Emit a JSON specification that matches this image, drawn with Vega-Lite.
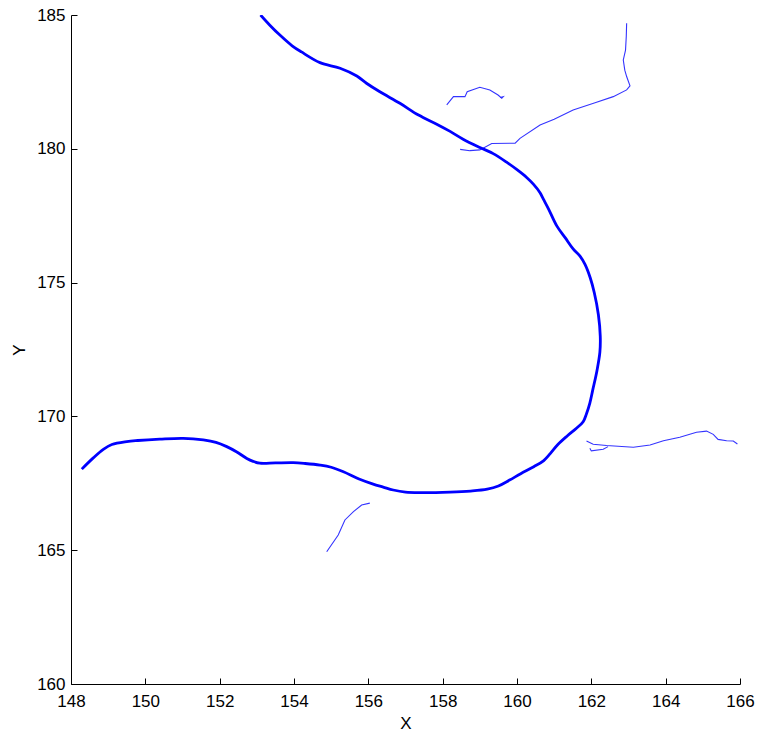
{
  "$schema": "https://vega.github.io/schema/vega-lite/v6.json",
  "width": 669,
  "height": 669,
  "autosize": "none",
  "padding": {"left": 71, "top": 15, "right": 17, "bottom": 47},
  "background": "white",
  "config": {
    "view": {"stroke": null},
    "axis": {
      "grid": false,
      "domainColor": "#000000",
      "domainWidth": 1,
      "tickColor": "#000000",
      "tickSize": -6,
      "labelFont": "Liberation Sans",
      "labelFontSize": 17,
      "labelColor": "#000000",
      "titleFont": "Liberation Sans",
      "titleFontSize": 17,
      "titleFontWeight": "normal",
      "titleColor": "#000000"
    }
  },
  "datasets": {
    "main": [
      {"o":1,"x":153.10,"y":185.00},{"o":2,"x":153.35,"y":184.62},{"o":3,"x":153.62,"y":184.25},{"o":4,"x":153.95,"y":183.85},{"o":5,"x":154.20,"y":183.62},{"o":6,"x":154.70,"y":183.22},{"o":7,"x":155.24,"y":183.01},{"o":8,"x":155.69,"y":182.72},{"o":9,"x":155.95,"y":182.45},{"o":10,"x":156.31,"y":182.13},{"o":11,"x":156.85,"y":181.70},{"o":12,"x":157.35,"y":181.26},{"o":15,"x":157.84,"y":180.92},{"o":16,"x":158.20,"y":180.65},{"o":17,"x":158.55,"y":180.36},{"o":18,"x":159.00,"y":180.05},{"o":19,"x":159.36,"y":179.82},{"o":20,"x":159.72,"y":179.50},{"o":21,"x":160.00,"y":179.22},{"o":22,"x":160.26,"y":178.93},{"o":23,"x":160.44,"y":178.68},{"o":24,"x":160.62,"y":178.36},{"o":25,"x":160.71,"y":178.12},{"o":26,"x":160.85,"y":177.75},{"o":27,"x":161.07,"y":177.12},{"o":28,"x":161.30,"y":176.67},{"o":29,"x":161.51,"y":176.26},{"o":30,"x":161.70,"y":175.98},{"o":31,"x":161.83,"y":175.68},{"o":32,"x":161.97,"y":175.18},{"o":33,"x":162.08,"y":174.62},{"o":34,"x":162.19,"y":173.80},{"o":35,"x":162.24,"y":173.00},{"o":36,"x":162.23,"y":172.40},{"o":37,"x":162.15,"y":171.70},{"o":38,"x":162.04,"y":171.00},{"o":39,"x":161.96,"y":170.50},{"o":40,"x":161.87,"y":170.10},{"o":41,"x":161.78,"y":169.80},{"o":42,"x":161.60,"y":169.56},{"o":43,"x":161.35,"y":169.27},{"o":44,"x":161.10,"y":168.95},{"o":45,"x":160.90,"y":168.62},{"o":46,"x":160.72,"y":168.35},{"o":47,"x":160.45,"y":168.12},{"o":48,"x":160.10,"y":167.86},{"o":49,"x":159.80,"y":167.62},{"o":50,"x":159.50,"y":167.40},{"o":51,"x":159.20,"y":167.28},{"o":52,"x":158.75,"y":167.21},{"o":53,"x":158.20,"y":167.17},{"o":54,"x":157.40,"y":167.15},{"o":55,"x":157.00,"y":167.17},{"o":56,"x":156.67,"y":167.25},{"o":57,"x":156.40,"y":167.36},{"o":58,"x":156.13,"y":167.47},{"o":59,"x":155.75,"y":167.66},{"o":60,"x":155.33,"y":167.93},{"o":61,"x":155.00,"y":168.10},{"o":62,"x":154.70,"y":168.18},{"o":63,"x":154.30,"y":168.24},{"o":64,"x":153.98,"y":168.27},{"o":65,"x":153.50,"y":168.26},{"o":66,"x":153.08,"y":168.25},{"o":67,"x":152.90,"y":168.32},{"o":68,"x":152.73,"y":168.43},{"o":69,"x":152.45,"y":168.68},{"o":70,"x":152.19,"y":168.87},{"o":71,"x":151.90,"y":169.03},{"o":72,"x":151.56,"y":169.12},{"o":73,"x":151.02,"y":169.18},{"o":74,"x":150.39,"y":169.15},{"o":75,"x":149.80,"y":169.10},{"o":76,"x":149.50,"y":169.06},{"o":77,"x":149.10,"y":168.95},{"o":78,"x":148.87,"y":168.77},{"o":79,"x":148.60,"y":168.45},{"o":80,"x":148.29,"y":168.03}
    ],
    "thin": [
      {"s":"A","o":1,"x":158.47,"y":179.98},{"s":"A","o":2,"x":158.73,"y":179.93},{"s":"A","o":3,"x":159.00,"y":179.96},{"s":"A","o":4,"x":159.32,"y":180.20},{"s":"A","o":5,"x":159.95,"y":180.21},{"s":"A","o":6,"x":160.08,"y":180.39},{"s":"A","o":7,"x":160.62,"y":180.89},{"s":"A","o":8,"x":161.00,"y":181.10},{"s":"A","o":9,"x":161.51,"y":181.45},{"s":"A","o":10,"x":162.10,"y":181.72},{"s":"A","o":11,"x":162.59,"y":181.95},{"s":"A","o":12,"x":162.95,"y":182.20},{"s":"A","o":13,"x":163.04,"y":182.35},{"s":"A","o":14,"x":162.95,"y":182.70},{"s":"A","o":15,"x":162.90,"y":182.94},{"s":"A","o":16,"x":162.86,"y":183.32},{"s":"A","o":17,"x":162.92,"y":183.69},{"s":"A","o":18,"x":162.94,"y":184.20},{"s":"A","o":19,"x":162.95,"y":184.69},
      {"s":"B","o":1,"x":158.11,"y":181.64},{"s":"B","o":2,"x":158.29,"y":181.95},{"s":"B","o":3,"x":158.60,"y":181.95},{"s":"B","o":4,"x":158.66,"y":182.13},{"s":"B","o":5,"x":159.00,"y":182.30},{"s":"B","o":6,"x":159.27,"y":182.20},{"s":"B","o":7,"x":159.49,"y":182.01},{"s":"B","o":8,"x":159.59,"y":181.89},{"s":"B","o":9,"x":159.63,"y":181.95},{"s":"B","o":10,"x":159.54,"y":181.92},
      {"s":"C","o":1,"x":154.88,"y":164.94},{"s":"C","o":2,"x":155.19,"y":165.57},{"s":"C","o":3,"x":155.37,"y":166.13},{"s":"C","o":4,"x":155.60,"y":166.44},{"s":"C","o":5,"x":155.82,"y":166.69},{"s":"C","o":6,"x":156.04,"y":166.76},
      {"s":"D","o":1,"x":161.87,"y":169.08},{"s":"D","o":2,"x":162.05,"y":168.96},{"s":"D","o":3,"x":162.41,"y":168.91},{"s":"D","o":4,"x":163.13,"y":168.85},{"s":"D","o":5,"x":163.58,"y":168.93},{"s":"D","o":6,"x":163.94,"y":169.09},{"s":"D","o":7,"x":164.38,"y":169.22},{"s":"D","o":8,"x":164.83,"y":169.41},{"s":"D","o":9,"x":165.10,"y":169.45},{"s":"D","o":10,"x":165.28,"y":169.33},{"s":"D","o":11,"x":165.41,"y":169.14},{"s":"D","o":12,"x":165.64,"y":169.09},{"s":"D","o":13,"x":165.82,"y":169.08},{"s":"D","o":14,"x":165.93,"y":168.97},
      {"s":"E","o":1,"x":161.96,"y":168.81},{"s":"E","o":2,"x":162.00,"y":168.71},{"s":"E","o":3,"x":162.32,"y":168.77},{"s":"E","o":4,"x":162.45,"y":168.87}
    ]
  },
  "encoding": {
    "x": {
      "field": "x", "type": "quantitative",
      "scale": {"domain": [148, 166], "nice": false, "zero": false},
      "axis": {"title": "X", "values": [148,150,152,154,156,158,160,162,164,166], "labelPadding": 15, "titlePadding": 6, "labelFlush": false}
    },
    "y": {
      "field": "y", "type": "quantitative",
      "scale": {"domain": [160, 185], "nice": false, "zero": false},
      "axis": {"title": "Y", "values": [160,165,170,175,180,185], "labelPadding": 12, "titlePadding": 8, "labelFlush": false}
    },
    "order": {"field": "o", "type": "quantitative"}
  },
  "layer": [
    {
      "data": {"name": "thin"},
      "mark": {"type": "line", "color": "#0000ff", "strokeWidth": 1.1, "opacity": 0.8, "clip": true},
      "encoding": {"detail": {"field": "s", "type": "nominal"}}
    },
    {
      "data": {"name": "main"},
      "mark": {"type": "line", "color": "#0000ff", "strokeWidth": 2.8, "interpolate": "catmull-rom", "clip": true},
      "encoding": {}
    }
  ]
}
